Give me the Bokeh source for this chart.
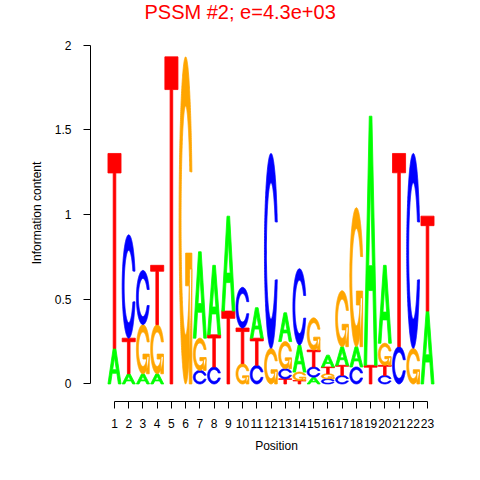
import numpy as np
from bokeh.plotting import figure
from bokeh.models import Range1d, FixedTicker, ColumnDataSource, Title
from bokeh.embed import file_html
from bokeh.resources import INLINE

# ---- data: information content (bits) per letter per position ----
positions = list(range(1, 24))
bits_A = [0.21, 0.06, 0.06, 0.06, 0, 0, 0.51, 0.41, 0.56, 0, 0.18, 0, 0.17, 0.16, 0.04, 0.07, 0.11, 0.12, 1.47, 0.46, 0, 0, 0.43]
bits_C = [0, 0.61, 0.32, 0, 0, 0, 0.08, 0.10, 0, 0.24, 0.11, 1.15, 0.06, 0.45, 0.06, 0.03, 0.05, 0.10, 0, 0.05, 0.22, 1.15, 0]
bits_G = [0, 0, 0.29, 0.29, 0, 1.93, 0.19, 0, 0, 0.12, 0, 0.21, 0.16, 0.05, 0.19, 0.03, 0.33, 0.82, 0, 0.13, 0, 0.21, 0]
bits_T = [1.15, 0.21, 0, 0.35, 1.93, 0, 0, 0.19, 0.43, 0.21, 0.16, 0, 0.03, 0.02, 0.10, 0.04, 0.06, 0, 0.11, 0.06, 1.14, 0, 0.56]
letters = ["A", "C", "G", "T"]
y_ticks = [0, 0.5, 1, 1.5, 2]
y_tick_labels = ["0", "0.5", "1", "1.5", "2"]
title_text = "PSSM #2; e=4.3e+03"

colors = {"A": "#00FF00", "C": "#0000FF", "G": "#FFA500", "T": "#FF0000"}

# ---- letter outlines in a unit box (seqLogo-style shapes) ----
def shape_A():
    outer = ([0, .4, .6, 1, .8, .68, .32, .2], [0, 1, 1, 0, 0, .3, .3, 0])
    hole = ([.36, .5, .64], [.4, .75, .4])
    return [[outer, hole]]

def shape_T():
    return [[([0, 1, 1, .6, .6, .4, .4, 0], [1, 1, .9, .9, 0, 0, .9, .9])]]

def c_ring():
    a1 = np.linspace(0.3 + np.pi / 2, np.pi, 100)
    a2 = np.linspace(np.pi, 1.5 * np.pi, 100)
    xl1, yl1 = 0.5 + 0.5 * np.sin(a1), 0.5 + 0.5 * np.cos(a1)
    xl = np.concatenate([xl1, 0.5 + 0.5 * np.sin(a2)])
    yl = np.concatenate([yl1, 0.5 + 0.5 * np.cos(a2)])
    xo = np.concatenate([xl, xl[::-1]])
    yo = np.concatenate([yl, 1 - yl[::-1]])
    xi1, yi1 = 0.5 + 0.35 * np.sin(a1), 0.5 + 0.35 * np.cos(a1)
    m = yi1 <= yl1.max()
    xi = np.concatenate([xi1[m], 0.5 + 0.35 * np.sin(a2)])
    yi = np.concatenate([yi1[m], 0.5 + 0.35 * np.cos(a2)])
    xin = np.concatenate([xi, xi[::-1]])
    yin = np.concatenate([yi, 1 - yi[::-1]])
    x = np.concatenate([xo, xin[::-1]])
    y = np.concatenate([yo, yin[::-1]])
    return (x, y), xl1.max()

def shape_C():
    ring, _ = c_ring()
    return [[ring]]

def shape_G():
    ring, r1 = c_ring()
    h1 = 0.4
    add = ([r1, .5, .5, r1 - .2, r1 - .2, r1, r1], [h1, h1, h1 - .1, h1 - .1, 0, 0, h1])
    return [[ring], [add]]

shapes = {"A": shape_A(), "C": shape_C(), "G": shape_G(), "T": shape_T()}

# ---- build stacked letters ----
bits = {"A": bits_A, "C": bits_C, "G": bits_G, "T": bits_T}
lw = 0.92
xs_all, ys_all, col_all = [], [], []
for i, pos in enumerate(positions):
    col = sorted([(bits[L][i], k, L) for k, L in enumerate(letters) if bits[L][i] > 0])
    base = 0.0
    for h, _, L in col:
        mx, my = [], []
        for poly in shapes[L]:
            px, py = [], []
            for rx, ry in poly:
                px.append(list(pos - lw / 2 + lw * np.asarray(rx, dtype=float)))
                py.append(list(base + h * np.asarray(ry, dtype=float)))
            mx.append(px)
            my.append(py)
        xs_all.append(mx)
        ys_all.append(my)
        col_all.append(colors[L])
        base += h

src = ColumnDataSource(dict(xs=xs_all, ys=ys_all, color=col_all))

# ---- figure ----
p = figure(width=464, height=464, output_backend="svg", toolbar_location=None,
           x_range=Range1d(-0.687, 25.46), y_range=Range1d(-0.1036, 2.121),
           min_border_left=90, min_border_right=2, min_border_top=0, min_border_bottom=63)
p.title = Title(text=title_text, align="left", offset=54, text_color="#FF0000",
                text_font="Liberation Sans", text_font_size="20px", text_font_style="normal",
                vertical_align="top", standoff=0)
p.multi_polygons(xs="xs", ys="ys", fill_color="color", line_color="color", line_width=0.8, source=src)

p.grid.visible = False
p.outline_line_color = None
p.background_fill_color = "white"

for ax in (p.xaxis[0], p.yaxis[0]):
    ax.axis_line_color = "#000000"
    ax.major_tick_line_color = "#000000"
    ax.major_tick_in = 0
    ax.major_tick_out = 7
    ax.minor_tick_line_color = None
    ax.major_label_text_font = "Liberation Sans"
    ax.major_label_text_font_size = "12px"
    ax.major_label_text_color = "#000000"
    ax.axis_label_text_font = "Liberation Sans"
    ax.axis_label_text_font_size = "12px"
    ax.axis_label_text_font_style = "normal"
    ax.axis_label_text_color = "#000000"

p.xaxis.ticker = FixedTicker(ticks=positions)
p.xaxis.bounds = (positions[0], positions[-1])
p.xaxis.major_label_standoff = 10
p.xaxis.axis_label = "Position"
p.xaxis.axis_label_standoff = 8

p.yaxis.ticker = FixedTicker(ticks=y_ticks)
p.yaxis.bounds = (y_ticks[0], y_ticks[-1])
p.yaxis.major_label_overrides = {t: s for t, s in zip(y_ticks, y_tick_labels)}
p.yaxis.major_label_standoff = 12
p.yaxis.axis_label = "Information content"
p.yaxis.axis_label_standoff = 8

open("out.html", "w").write(file_html(p, INLINE))
